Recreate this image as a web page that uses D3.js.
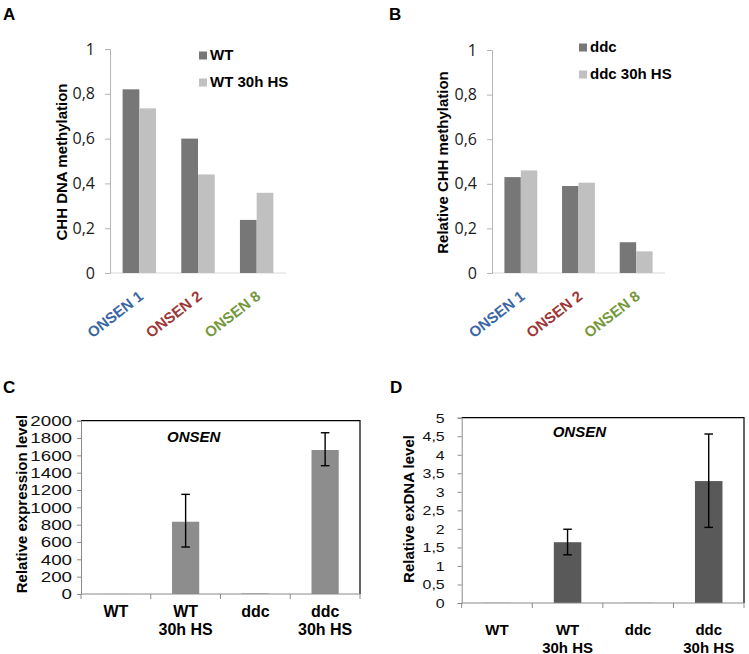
<!DOCTYPE html>
<html>
<head>
<meta charset="utf-8">
<script src="https://cdn.jsdelivr.net/npm/d3@7"></script>
<style>
  html, body { margin: 0; padding: 0; background: #fff; }
  svg { display: block; }
</style>
</head>
<body>
<svg id="chart" width="749" height="654"></svg>
<script>
// ---------- DATA ----------
const onsenCategories = ["ONSEN 1", "ONSEN 2", "ONSEN 8"];
const onsenColors = ["#3b67a3", "#9c3838", "#76983c"];

const seriesA = ["WT", "WT 30h HS"];
const valuesA_WT = [0.82, 0.60, 0.237];
const valuesA_WTHS = [0.735, 0.44, 0.358];

const seriesB = ["ddc", "ddc 30h HS"];
const valuesB_ddc = [0.43, 0.39, 0.138];
const valuesB_ddcHS = [0.46, 0.405, 0.097];

const methTicks = [0, 0.2, 0.4, 0.6, 0.8, 1];
const methTickLabels = ["0", "0,2", "0,4", "0,6", "0,8", "1"];

const sampleCategories = ["WT", "WT 30h HS", "ddc", "ddc 30h HS"];
const sampleLine1 = ["WT", "WT", "ddc", "ddc"];
const sampleLine2 = ["", "30h HS", "", "30h HS"];

const exprValues = [1, 834, 6, 1662];
const exprErrLow = [null, 542, null, 1481];
const exprErrHigh = [null, 1150, null, 1861];
const exprTicks = [0, 200, 400, 600, 800, 1000, 1200, 1400, 1600, 1800, 2000];

const exdnaValues = [0.004, 1.64, 0.004, 3.29];
const exdnaErrLow = [null, 1.30, null, 2.04];
const exdnaErrHigh = [null, 1.99, null, 4.56];
const exdnaTicks = [0, 0.5, 1, 1.5, 2, 2.5, 3, 3.5, 4, 4.5, 5];
const exdnaTickLabels = ["0", "0,5", "1", "1,5", "2", "2,5", "3", "3,5", "4", "4,5", "5"];

// ---------- DRAW ----------
const svg = d3.select("#chart");
const BOLD = "'Liberation Sans', Arial, sans-serif";
const seriesColors = ["#777777", "#c0c0c0"];

function panelLetter(t, x, y) {
  svg.append("text").attr("x", x).attr("y", y)
    .attr("font-family", BOLD).attr("font-weight", "bold").attr("font-size", 17)
    .attr("fill", "#000").text(t);
}

function groupedPanel(opt) {
  const g = svg.append("g");
  const x0 = d3.scaleBand().domain(onsenCategories)
    .range(opt.xRange).paddingInner(0.43).paddingOuter(0.215);
  const x1 = d3.scaleBand().domain(opt.series).range([0, x0.bandwidth()]);
  const y = d3.scaleLinear().domain([0, 1]).range(opt.yRange);

  g.append("line").attr("x1", opt.xRange[0]).attr("x2", opt.xRange[1])
    .attr("y1", y(0)).attr("y2", y(0)).attr("stroke", "#d9d9d9").attr("stroke-width", 1);

  opt.series.forEach((s, si) => {
    const vals = opt.values[si];
    g.selectAll(null).data(onsenCategories).enter().append("rect")
      .attr("x", d => x0(d) + x1(s))
      .attr("width", x1.bandwidth())
      .attr("y", (d, i) => y(vals[i]))
      .attr("height", (d, i) => y(0) - y(vals[i]))
      .attr("fill", seriesColors[si]);
  });

  const ax = d3.axisLeft(y).tickValues(methTicks)
    .tickFormat((d, i) => methTickLabels[i]).tickSize(5).tickPadding(10);
  const ag = g.append("g").attr("transform", `translate(${opt.xRange[0]},0)`).call(ax);
  ag.select(".domain").attr("stroke", "#b5b5b5");
  ag.selectAll(".tick line").attr("stroke", "#b5b5b5");
  ag.selectAll(".tick text").attr("font-family", "'Open Sans', sans-serif")
    .attr("font-size", 16).attr("fill", "#1a1a1a");

  g.append("text")
    .attr("transform", `translate(${opt.titleX},${(opt.yRange[0] + opt.yRange[1]) / 2 + 1}) rotate(-90)`)
    .attr("text-anchor", "middle").attr("dy", "0.35em")
    .attr("font-family", BOLD).attr("font-weight", "bold").attr("font-size", 15)
    .text(opt.title);

  g.selectAll(null).data(onsenCategories).enter().append("text")
    .attr("transform", d => `translate(${x0(d) + x0.bandwidth() / 2 + 5},${y(0) + 25}) rotate(-38)`)
    .attr("text-anchor", "end")
    .attr("font-family", BOLD).attr("font-weight", "bold").attr("font-size", 15)
    .attr("fill", (d, i) => onsenColors[i]).text(d => d);

  opt.series.forEach((s, si) => {
    const ly = opt.legendY + si * 27;
    g.append("rect").attr("x", opt.legendX).attr("y", ly - 8).attr("width", 8).attr("height", 8)
      .attr("fill", seriesColors[si]);
    g.append("text").attr("x", opt.legendX + 11).attr("y", ly)
      .attr("font-family", BOLD).attr("font-weight", "bold").attr("font-size", 15)
      .text(s);
  });
}

function errorPanel(opt) {
  const g = svg.append("g");
  const [L, R] = opt.xRange;
  const [B, T] = opt.yRange;
  const x = d3.scaleBand().domain(sampleCategories).range(opt.xRange)
    .paddingInner(0.61).paddingOuter(0.305);
  const xc = d3.scaleBand().domain(sampleCategories).range(opt.xRange);
  const y = d3.scaleLinear().domain([0, opt.max]).range(opt.yRange);

  g.append("path").attr("d", `M${L},${T}H${R}V${B}`).attr("fill", "none")
    .attr("stroke", "#000").attr("stroke-width", 1.2);

  g.selectAll(null).data(sampleCategories).enter().append("rect")
    .attr("x", d => x(d)).attr("width", x.bandwidth())
    .attr("y", (d, i) => y(opt.values[i]))
    .attr("height", (d, i) => y(0) - y(opt.values[i]))
    .attr("fill", opt.color);

  sampleCategories.forEach((d, i) => {
    if (opt.low[i] == null) return;
    const cx = x(d) + x.bandwidth() / 2;
    const e = g.append("g").attr("stroke", "#000").attr("stroke-width", 1.4);
    e.append("line").attr("x1", cx).attr("x2", cx).attr("y1", y(opt.low[i])).attr("y2", y(opt.high[i]));
    e.append("line").attr("x1", cx - 4.3).attr("x2", cx + 4.3).attr("y1", y(opt.low[i])).attr("y2", y(opt.low[i]));
    e.append("line").attr("x1", cx - 4.3).attr("x2", cx + 4.3).attr("y1", y(opt.high[i])).attr("y2", y(opt.high[i]));
  });

  const bx = g.append("g").attr("stroke", "#8a8a8a").attr("stroke-width", 1);
  bx.append("line").attr("x1", L).attr("x2", R).attr("y1", B).attr("y2", B);
  const bounds = sampleCategories.map(d => xc(d)).concat([R]);
  bx.selectAll(null).data(bounds).enter().append("line")
    .attr("x1", d => d).attr("x2", d => d).attr("y1", B).attr("y2", B + 5);

  const ax = d3.axisLeft(y).tickValues(opt.ticks)
    .tickFormat((d, i) => opt.tickLabels[i]).tickSize(4).tickPadding(opt.tickPad);
  const ag = g.append("g").attr("transform", `translate(${L},0)`).call(ax);
  ag.select(".domain").attr("stroke", "#8a8a8a");
  ag.selectAll(".tick line").attr("stroke", "#8a8a8a");
  ag.selectAll(".tick text").attr("font-family", "'Liberation Sans', Arial, sans-serif")
    .attr("font-size", opt.tickFont).attr("fill", "#111")
    .each(function () {
      const w = this.getComputedTextLength();
      d3.select(this).attr("textLength", w * opt.stretch).attr("lengthAdjust", "spacingAndGlyphs");
    });

  g.append("text")
    .attr("transform", `translate(${opt.titleX},${opt.titleY}) rotate(-90)`)
    .attr("text-anchor", "middle").attr("dy", "0.35em")
    .attr("font-family", BOLD).attr("font-weight", "bold").attr("font-size", 15)
    .text(opt.title);

  g.append("text").attr("x", opt.onsenX).attr("y", opt.onsenY)
    .attr("font-family", BOLD).attr("font-weight", "bold").attr("font-style", "italic")
    .attr("font-size", 15).text("ONSEN");

  sampleCategories.forEach((d, i) => {
    const cx = xc(d) + xc.bandwidth() / 2;
    const t = g.append("text").attr("text-anchor", "middle")
      .attr("font-family", BOLD).attr("font-weight", "bold").attr("font-size", opt.catFont);
    t.append("tspan").attr("x", cx).attr("y", opt.catY1).text(sampleLine1[i]);
    if (sampleLine2[i]) t.append("tspan").attr("x", cx).attr("y", opt.catY2).text(sampleLine2[i]);
  });
}

panelLetter("A", 3, 20);
panelLetter("B", 389, 20);
panelLetter("C", 3, 393);
panelLetter("D", 390, 393);

groupedPanel({
  series: seriesA, values: [valuesA_WT, valuesA_WTHS],
  xRange: [110, 286], yRange: [273, 49],
  title: "CHH DNA methylation", titleX: 62,
  legendX: 199, legendY: 59.5
});

groupedPanel({
  series: seriesB, values: [valuesB_ddc, valuesB_ddcHS],
  xRange: [492, 665], yRange: [273, 50],
  title: "Relative CHH methylation", titleX: 443,
  legendX: 579, legendY: 51.5
});

errorPanel({
  values: exprValues, low: exprErrLow, high: exprErrHigh,
  max: 2000, ticks: exprTicks, tickLabels: exprTicks.map(String),
  xRange: [81, 360], yRange: [594, 420.7], color: "#8d8d8d",
  tickFont: 15, stretch: 1.25, tickPad: 5,
  title: "Relative expression level", titleX: 21.5, titleY: 504,
  onsenX: 167, onsenY: 442, catFont: 16, catY1: 617, catY2: 635
});

errorPanel({
  values: exdnaValues, low: exdnaErrLow, high: exdnaErrHigh,
  max: 5, ticks: exdnaTicks, tickLabels: exdnaTickLabels,
  xRange: [461.7, 744], yRange: [603, 417.7], color: "#595959",
  tickFont: 13.5, stretch: 1.18, tickPad: 13,
  title: "Relative exDNA level", titleX: 409, titleY: 509,
  onsenX: 552.7, onsenY: 436.7, catFont: 15, catY1: 635, catY2: 652.5
});
</script>
</body>
</html>
